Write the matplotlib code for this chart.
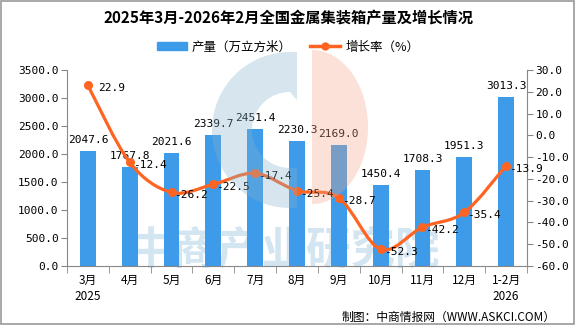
import matplotlib
matplotlib.use("Agg")
import matplotlib.pyplot as plt
import numpy as np
from matplotlib.path import Path
from matplotlib.patches import PathPatch, Rectangle, Polygon, Patch
from matplotlib.lines import Line2D

plt.rcParams['font.family'] = ['Noto Sans CJK SC', 'DejaVu Sans']

categories = ['3月\n2025', '4月', '5月', '6月', '7月', '8月', '9月', '10月', '11月', '12月', '1-2月\n2026']
production = [2047.6, 1767.8, 2021.6, 2339.7, 2451.4, 2230.3, 2169.0, 1450.4, 1708.3, 1951.3, 3013.3]
growth = [22.9, -12.4, -26.2, -22.5, -17.4, -25.4, -28.7, -52.3, -42.2, -35.4, -13.9]

BAR = '#3d9be9'
LINE = '#ff6422'
MONO = ['DejaVu Sans Mono', 'Noto Sans CJK SC']
FS = 8

W, H = 576, 325
fig = plt.figure(figsize=(W/100, H/100), dpi=100)
fig.patches.append(Rectangle((0.002, 0.003), 0.995, 0.994, transform=fig.transFigure,
                             fill=False, edgecolor='#999999', lw=1.2, zorder=0))

ax = fig.add_axes([67/W, 1-266/H, (527-67)/W, (266-70)/H])
ax.patch.set_visible(False)
ax2 = ax.twinx()

x = np.arange(len(categories))
ax.bar(x, production, width=0.38, color=BAR, zorder=2)
ax.set_xlim(-0.5, len(categories)-0.5)
ax.set_ylim(0, 3500)
lt = np.arange(0, 3501, 500)
ax.set_yticks(lt)
ax.set_yticklabels([f'{v:.1f}' for v in lt], family=MONO, fontsize=FS)
ax.set_xticks(x)
ax.set_xticklabels(categories, fontsize=8.5, linespacing=1.3)
ax.tick_params(axis='x', length=0, pad=6)
ax.set_xticks(np.arange(-0.5, len(categories), 1), minor=True)
ax.tick_params(axis='x', which='minor', length=5, color='#888888')
ax.tick_params(axis='y', length=4, color='#888888', pad=2)
for s in ['top', 'right']:
    ax.spines[s].set_visible(False)
for s in ['left', 'bottom']:
    ax.spines[s].set_color('#888888')

for xi, v in zip(x, production):
    ax.annotate(f'{v:.1f}', (xi, v), xytext=(0, 6), textcoords='offset pixels',
                ha='center', va='bottom', fontsize=FS, family=MONO, zorder=5)

ax2.set_ylim(-60, 30)
rt = np.arange(-60, 31, 10)
ax2.set_yticks(rt)
ax2.set_yticklabels([f'{v:.1f}' for v in rt], family=MONO, fontsize=FS)
ax2.tick_params(axis='y', length=4, color='#888888', pad=2)
for s in ['top', 'left', 'bottom']:
    ax2.spines[s].set_visible(False)
ax2.spines['right'].set_color('#888888')

# smooth curve (Catmull-Rom -> cubic Bezier) through the data points
g = np.array(growth, dtype=float)
verts = [(x[0], g[0])]
codes = [Path.MOVETO]
n = len(x)
for i in range(n-1):
    p0 = np.array([x[max(i-1, 0)], g[max(i-1, 0)]])
    p1 = np.array([x[i], g[i]])
    p2 = np.array([x[i+1], g[i+1]])
    p3 = np.array([x[min(i+2, n-1)], g[min(i+2, n-1)]])
    c1 = p1 + (p2 - p0) / 6
    c2 = p2 - (p3 - p1) / 6
    verts += [tuple(c1), tuple(c2), tuple(p2)]
    codes += [Path.CURVE4]*3
ax2.add_patch(PathPatch(Path(verts, codes), fill=False, edgecolor=LINE, lw=2.3, zorder=3))
ax2.plot(x, g, 'o', color=LINE, ms=5.5, zorder=4)
for xi, v in zip(x, g):
    dx = 3 if v < 0 else 10
    ax2.annotate(f'{v:.1f}', (xi, v), xytext=(dx, -3), textcoords='offset pixels',
                 ha='left', va='center', fontsize=FS, family=MONO, zorder=5)

# legend
handles = [Patch(color=BAR, label='产量（万立方米）'),
           Line2D([0], [0], color=LINE, lw=2.5, marker='o', ms=5, label='增长率（%）')]
fig.legend(handles=handles, loc='center', bbox_to_anchor=(0.5, 1-47/H), ncol=2,
           frameon=False, fontsize=9, handlelength=2.4, handleheight=0.55,
           handletextpad=0.4, columnspacing=1.5)

fig.text(0.5, 1-18/H, '2025年3月-2026年2月全国金属集装箱产量及增长情况', ha='center', va='center',
         fontsize=11, fontweight='bold')

# watermark logo (overlay)
def px(pts):
    return [(px_/W, 1-py_/H) for px_, py_ in pts]

t = np.linspace(np.pi/2, 3*np.pi/2, 60)
cx, cy, ro, ri = 290, 130, 78, 38
outer = [(cx + ro*np.cos(a), cy - ro*np.sin(a)) for a in t]
inner = [(cx + ri*np.cos(a), cy - ri*np.sin(a)) for a in t[::-1]]
blue_pts = [(297, cy - ro)] + outer + [(297, cy + ro), (297, cy + ri)] + inner + [(297, cy - ri + 8), (297, cy - ro)]
fig.patches.append(Polygon(px(blue_pts), closed=True, transform=fig.transFigure,
                           facecolor=(135/255, 178/255, 206/255), alpha=0.33, lw=0, zorder=1))
t2 = np.linspace(-np.pi/2, np.pi/2, 60)
pink_pts = [(312 + 56*np.cos(a), 127 - 77*np.sin(a)) for a in t2]
fig.patches.append(Polygon(px(pink_pts), closed=True, transform=fig.transFigure,
                           facecolor=(243/255, 166/255, 135/255), alpha=0.33, lw=0, zorder=1))

# watermark text (behind the data)
fig.text(284/W, 1-250/H, '中商产业研究院', ha='center', va='center', fontsize=32,
         color='#d3e5f1', fontweight='bold', zorder=-1)

fig.text(556/W, 1-317/H, '制图：中商情报网（WWW.ASKCI.COM）', ha='right', va='center', fontsize=8.5)

fig.savefig('out.png', dpi=100)
